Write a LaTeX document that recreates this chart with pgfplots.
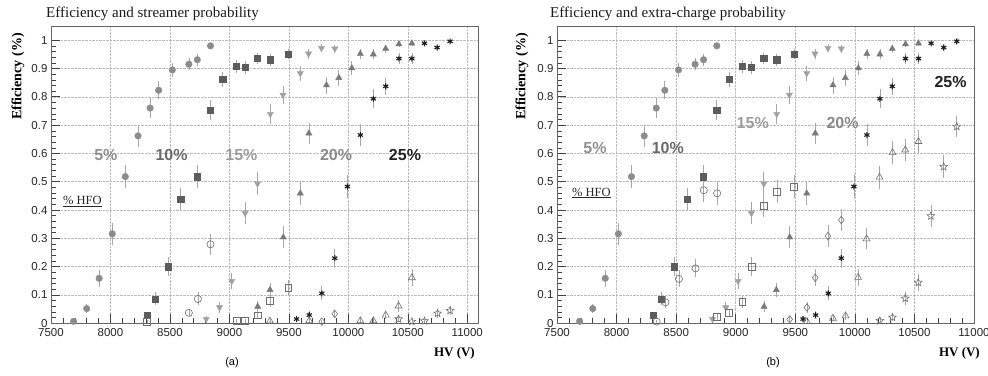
\documentclass[border=0pt]{standalone}
\usepackage{pgfplots}
\pgfplotsset{compat=1.18}
\usepackage{pgfplotstable}
\usepackage{fontspec}
\setmainfont{Liberation Serif}
\setsansfont{Liberation Sans}
\usetikzlibrary{plotmarks}

\definecolor{c5}{HTML}{8C8C8C}
\definecolor{c10}{HTML}{5C5C5C}
\definecolor{c15}{HTML}{A0A0A0}
\definecolor{c20}{HTML}{7A7A7A}
\definecolor{c25}{HTML}{1E1E1E}
\definecolor{copen}{HTML}{6E6E6E}
\definecolor{t5}{HTML}{8F8F8F}
\definecolor{t10}{HTML}{6A6A6A}
\definecolor{t15}{HTML}{9C9C9C}
\definecolor{t20}{HTML}{8A8A8A}
\definecolor{t25}{HTML}{222222}

\pgfdeclareplotmark{ostar}{%
  \pgfpathmoveto{\pgfpointpolar{90}{\pgfplotmarksize}}%
  \pgfpathlineto{\pgfpointpolar{126}{0.45\pgfplotmarksize}}%
  \pgfpathlineto{\pgfpointpolar{162}{\pgfplotmarksize}}%
  \pgfpathlineto{\pgfpointpolar{198}{0.45\pgfplotmarksize}}%
  \pgfpathlineto{\pgfpointpolar{234}{\pgfplotmarksize}}%
  \pgfpathlineto{\pgfpointpolar{270}{0.45\pgfplotmarksize}}%
  \pgfpathlineto{\pgfpointpolar{306}{\pgfplotmarksize}}%
  \pgfpathlineto{\pgfpointpolar{342}{0.45\pgfplotmarksize}}%
  \pgfpathlineto{\pgfpointpolar{18}{\pgfplotmarksize}}%
  \pgfpathlineto{\pgfpointpolar{54}{0.45\pgfplotmarksize}}%
  \pgfpathclose
  \pgfusepathqstroke}

% ---------- efficiency (same in both panels) ----------
\pgfplotstableread{
x y e
7690 0.007 0.006
7800 0.052 0.017
7905 0.159 0.030
8015 0.316 0.038
8125 0.518 0.041
8232 0.662 0.039
8333 0.760 0.035
8405 0.823 0.031
8520 0.895 0.025
8659 0.915 0.022
8730 0.931 0.021
8841 0.980 0.011
}\effA
\pgfplotstableread{
x y e
8307 0.028 0.013
8374 0.086 0.023
8483 0.200 0.033
8590 0.439 0.040
8730 0.518 0.041
8841 0.754 0.035
8944 0.861 0.028
9056 0.907 0.024
9132 0.904 0.024
9235 0.935 0.020
9344 0.931 0.021
9492 0.950 0.018
}\effB
\pgfplotstableread{
x y e
8805 0.015 0.010
8917 0.056 0.018
9020 0.149 0.029
9132 0.389 0.040
9236 0.493 0.041
9344 0.739 0.036
9450 0.807 0.032
9596 0.883 0.026
9665 0.952 0.017
9774 0.972 0.013
9886 0.970 0.014
}\effC
\pgfplotstableread{
x y e
9238 0.059 0.019
9341 0.118 0.026
9453 0.304 0.038
9596 0.459 0.041
9668 0.671 0.038
9816 0.841 0.030
9920 0.867 0.028
10029 0.901 0.024
10101 0.952 0.017
10210 0.950 0.018
10314 0.970 0.014
10425 0.986 0.010
10534 0.989 0.009
}\effD
\pgfplotstableread{
x y e
9565 0.015 0.010
9671 0.029 0.014
9777 0.106 0.025
9886 0.230 0.034
9992 0.483 0.041
10101 0.665 0.039
10210 0.793 0.033
10314 0.837 0.030
10425 0.935 0.020
10534 0.935 0.020
10640 0.989 0.009
10746 0.974 0.013
10855 0.996 0.005
}\effE

% ---------- streamer probability (a) ----------
\pgfplotstableread{
x y e
8659 0.037 0.015
8735 0.086 0.023
8841 0.279 0.037
}\strA
\pgfplotstableread{
x y e
8307 0.006 0.006
9062 0.008 0.007
9132 0.008 0.007
9238 0.028 0.013
9341 0.080 0.022
9495 0.126 0.027
}\strB
\pgfplotstableread{
x y e
9777 0.006 0.006
9886 0.033 0.015
}\strC
\pgfplotstableread{
x y e
9341 0.008 0.007
9671 0.009 0.008
10101 0.009 0.008
10210 0.009 0.008
10314 0.029 0.014
10422 0.061 0.020
10534 0.161 0.030
}\strD
\pgfplotstableread{
x y e
10422 0.015 0.010
10534 0.006 0.006
10640 0.008 0.007
10750 0.035 0.015
10855 0.045 0.017
}\strE

% ---------- extra-charge probability (b) ----------
\pgfplotstableread{
x y e
8336 0.006 0.006
8411 0.074 0.021
8523 0.157 0.030
8663 0.194 0.032
8732 0.470 0.041
8844 0.459 0.041
}\xcA
\pgfplotstableread{
x y e
8844 0.022 0.012
8944 0.037 0.015
9056 0.075 0.021
9132 0.200 0.033
9235 0.416 0.040
9347 0.465 0.041
9490 0.483 0.041
}\xcB
\pgfplotstableread{
x y e
9453 0.014 0.010
9598 0.056 0.018
9668 0.161 0.030
9774 0.308 0.038
9886 0.365 0.039
}\xcC
\pgfplotstableread{
x y e
9598 0.006 0.006
9816 0.018 0.011
9922 0.026 0.013
10027 0.162 0.030
10098 0.298 0.037
10207 0.516 0.041
10316 0.603 0.040
10423 0.612 0.040
10534 0.642 0.039
}\xcD
\pgfplotstableread{
x y e
10210 0.009 0.008
10316 0.021 0.012
10423 0.088 0.023
10532 0.144 0.029
10638 0.379 0.040
10746 0.553 0.041
10855 0.695 0.038
}\xcE

\tikzset{pct/.style={font=\fontsize{16}{16}\selectfont\sffamily\bfseries}}

\pgfplotsset{
  panel/.style={
    scale only axis, height=297.3pt, anchor=south west,
    xmin=7500, ymin=0, ymax=1.05,
    xtick={7500,8000,8500,9000,9500,10000,10500,11000},
    ytick={0,0.1,0.2,0.3,0.4,0.5,0.6,0.7,0.8,0.9,1},
    minor x tick num=4, minor y tick num=4,
    tick align=inside, xtick pos=bottom, ytick pos=left,
    grid=major, major grid style={densely dotted, gray!55, line width=0.5pt},
    major tick style={black!75, line width=0.6pt},
    minor tick style={black!75, line width=0.5pt},
    major tick length=9pt, minor tick length=5pt,
    axis line style={black!60, line width=0.6pt},
    ticklabel style={font=\fontsize{11.5}{12}\selectfont\sffamily, text=black!85},
    xticklabel style={yshift=-2pt},
    scaled x ticks=false, scaled y ticks=false,
    /pgf/number format/assume math mode=true,
    /pgf/number format/1000 sep={},
    clip=false,
  },
  errs/.style={error bars/y dir=both, error bars/y explicit,
    error bars/error bar style={gray!70, line width=0.7pt},
    error bars/error mark=none},
  mC/.style={only marks, errs, mark=*, mark size=3.3pt, mark options={draw=c5, fill=c5}},
  mS/.style={only marks, errs, mark=square*, mark size=3.1pt, mark options={draw=c10, fill=c10}},
  mD/.style={only marks, errs, mark=triangle*, mark size=3.6pt, mark options={draw=c15, fill=c15, rotate=180}},
  mU/.style={only marks, errs, mark=triangle*, mark size=3.6pt, mark options={draw=c20, fill=c20}},
  mX/.style={only marks, errs, mark=asterisk, mark size=3pt, mark options={draw=c25, line width=1.1pt}},
  oC/.style={only marks, errs, mark=o, mark size=3.6pt, mark options={draw=copen, line width=0.6pt}},
  oS/.style={only marks, errs, mark=square, mark size=3.4pt, mark options={draw=copen, line width=0.6pt}},
  oD/.style={only marks, errs, mark=diamond, mark size=3.8pt, mark options={draw=copen, line width=0.6pt}},
  oU/.style={only marks, errs, mark=triangle, mark size=4pt, mark options={draw=copen, line width=0.6pt}},
  oX/.style={only marks, errs, mark=ostar, mark size=4pt, mark options={draw=copen, line width=0.6pt}},
}

\begin{document}
\begin{tikzpicture}
\path[use as bounding box] (0pt,0pt) rectangle (988pt,375pt);

% ---------------- panel (a) ----------------
\begin{axis}[panel, at={(51pt,51.7pt)}, width=427pt, xmax=11090]
\addplot[mC] table[x=x,y=y,y error=e] {\effA};
\addplot[mS] table[x=x,y=y,y error=e] {\effB};
\addplot[mD] table[x=x,y=y,y error=e] {\effC};
\addplot[mU] table[x=x,y=y,y error=e] {\effD};
\addplot[mX] table[x=x,y=y,y error=e] {\effE};
\addplot[oC] table[x=x,y=y,y error=e] {\strA};
\addplot[oS] table[x=x,y=y,y error=e] {\strB};
\addplot[oD] table[x=x,y=y,y error=e] {\strC};
\addplot[oU] table[x=x,y=y,y error=e] {\strD};
\addplot[oX] table[x=x,y=y,y error=e] {\strE};
\node[pct, text=t5]  at (axis cs:7961,0.595) {5\%};
\node[pct, text=t10] at (axis cs:8514,0.595) {10\%};
\node[pct, text=t15] at (axis cs:9101,0.595) {15\%};
\node[pct, text=t20] at (axis cs:9897,0.595) {20\%};
\node[pct, text=t25] at (axis cs:10476,0.595) {25\%};
\node[font=\fontsize{12.5}{13}\selectfont, text=black!85] at (axis cs:7764,0.429) {\underline{\% HFO}};
\end{axis}

% ---------------- panel (b) ----------------
\begin{axis}[panel, at={(557pt,51.7pt)}, width=417pt, xmax=11000]
\addplot[mC] table[x=x,y=y,y error=e] {\effA};
\addplot[mS] table[x=x,y=y,y error=e] {\effB};
\addplot[mD] table[x=x,y=y,y error=e] {\effC};
\addplot[mU] table[x=x,y=y,y error=e] {\effD};
\addplot[mX] table[x=x,y=y,y error=e] {\effE};
\addplot[oC] table[x=x,y=y,y error=e] {\xcA};
\addplot[oS] table[x=x,y=y,y error=e] {\xcB};
\addplot[oD] table[x=x,y=y,y error=e] {\xcC};
\addplot[oU] table[x=x,y=y,y error=e] {\xcD};
\addplot[oX] table[x=x,y=y,y error=e] {\xcE};
\node[pct, text=t5]  at (axis cs:7819,0.619) {5\%};
\node[pct, text=t10] at (axis cs:8430,0.619) {10\%};
\node[pct, text=t15] at (axis cs:9143,0.708) {15\%};
\node[pct, text=t20] at (axis cs:9897,0.708) {20\%};
\node[pct, text=t25] at (axis cs:10803,0.853) {25\%};
\node[font=\fontsize{12.5}{13}\selectfont, text=black!85] at (axis cs:7789,0.460) {\underline{\% HFO}};
\end{axis}

% ---------------- titles and labels ----------------
\node[anchor=base west, inner sep=0pt, font=\fontsize{15}{16}\selectfont, text=black!90] at (46pt,357pt) {Efficiency and streamer probability};
\node[anchor=base west, inner sep=0pt, font=\fontsize{15}{16}\selectfont, text=black!90] at (550pt,357pt) {Efficiency and extra-charge probability};
\node[rotate=90, anchor=east, inner sep=0pt, font=\fontsize{14}{14}\selectfont\bfseries] at (18pt,342pt) {Efficiency (\%)};
\node[rotate=90, anchor=east, inner sep=0pt, font=\fontsize{14}{14}\selectfont\bfseries] at (522pt,342pt) {Efficiency (\%)};
\node[anchor=base east, inner sep=0pt, font=\fontsize{13}{13}\selectfont\bfseries] at (475pt,18.3pt) {HV (V)};
\node[anchor=base east, inner sep=0pt, font=\fontsize{13}{13}\selectfont\bfseries] at (980pt,18.3pt) {HV (V)};
\node[font=\fontsize{11}{11}\selectfont\sffamily] at (232pt,12pt) {(a)};
\node[font=\fontsize{11}{11}\selectfont\sffamily] at (773pt,12pt) {(b)};
\end{tikzpicture}
\end{document}
